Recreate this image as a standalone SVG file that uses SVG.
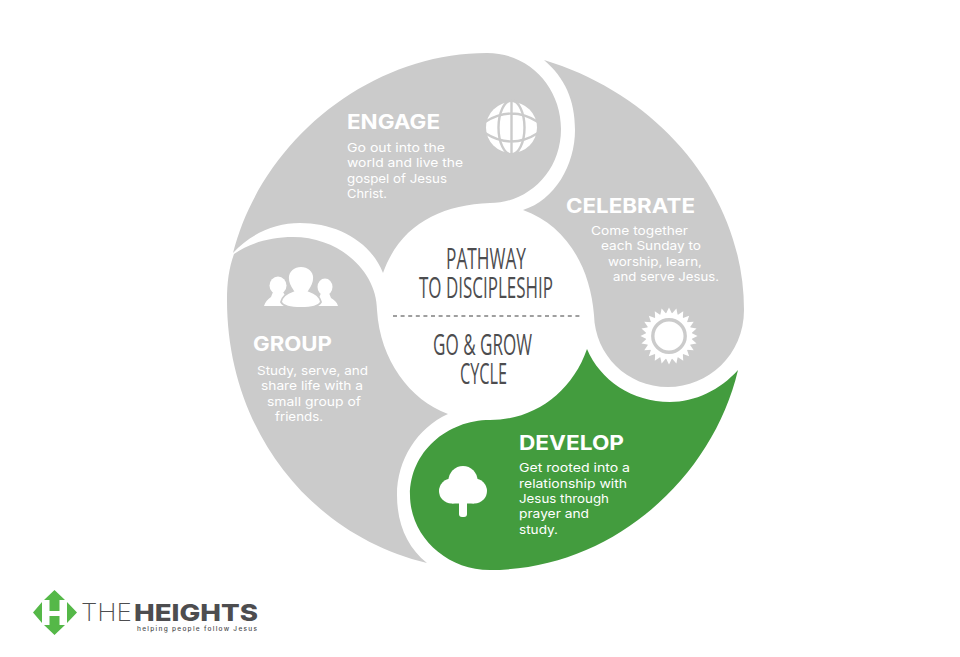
<svg xmlns="http://www.w3.org/2000/svg" xmlns:xlink="http://www.w3.org/1999/xlink" width="960" height="657" viewBox="0 0 960 657">
<style>
.g{fill:#cbcbcb}.w{fill:#fff}
.h{font-family:Inter,"Liberation Sans",sans-serif;font-weight:700;font-size:20px;fill:#fff}
.b{font-family:Inter,"Liberation Sans",sans-serif;font-weight:400;font-size:12px;fill:#fff}
.c{font-family:"Open Sans","Liberation Sans",sans-serif;font-size:30px;fill:#4d4d4f}
</style>
<defs><polygon id="spike" points="-3.2,-22 0,-28.5 3.2,-22"/></defs>
<rect width="960" height="657" fill="#fff"/>
<g id="engage">
<path class="g" d="M233,253C262,140 370,53 487,53C530,53 561,88 561,129C561,172 528,203 490,203C440,205 400,225 383,273C370,240 335,223 300,223C275,223 250,234 233,253Z"/>
<circle class="w" cx="511.500" cy="127.500" r="25.500"/>
<g fill="none" stroke="#cbcbcb" stroke-width="2.400"><path d="M511.500,100V155M485,122Q511.500,105 538,122M485,133Q511.500,150 538,133"/><ellipse cx="511.500" cy="127.500" rx="13" ry="27"/></g>
<text class="h" x="347" y="129" textLength="93" lengthAdjust="spacingAndGlyphs">ENGAGE</text>
<text class="b" x="347" y="152" textLength="98" lengthAdjust="spacingAndGlyphs">Go out into the</text>
<text class="b" x="347" y="167" textLength="116" lengthAdjust="spacingAndGlyphs">world and live the</text>
<text class="b" x="347" y="183" textLength="100" lengthAdjust="spacingAndGlyphs">gospel of Jesus</text>
<text class="b" x="347" y="198" textLength="40" lengthAdjust="spacingAndGlyphs">Christ.</text>
</g>
<g id="celebrate">
<path class="g" d="M544,60C660,95 744,195 744,310C744,355 708,387 668,387C627,387 595,355 594,315C590,265 565,225 523,210C555,200 575,165 575,130C575,100 565,78 544,60Z"/>
<text class="h" x="566" y="213" textLength="129" lengthAdjust="spacingAndGlyphs">CELEBRATE</text>
<text class="b" x="591" y="235" textLength="97" lengthAdjust="spacingAndGlyphs">Come together</text>
<text class="b" x="601" y="250" textLength="100" lengthAdjust="spacingAndGlyphs">each Sunday to</text>
<text class="b" x="608" y="266" textLength="94" lengthAdjust="spacingAndGlyphs">worship, learn,</text>
<text class="b" x="613" y="281" textLength="106" lengthAdjust="spacingAndGlyphs">and serve Jesus.</text>
<g transform="translate(669,336)"><circle class="w" r="23"/><circle r="16.200" fill="none" stroke="#cbcbcb" stroke-width="3.400"/>
<g class="w">
<use xlink:href="#spike"/><use xlink:href="#spike" transform="rotate(15)"/><use xlink:href="#spike" transform="rotate(30)"/><use xlink:href="#spike" transform="rotate(45)"/><use xlink:href="#spike" transform="rotate(60)"/><use xlink:href="#spike" transform="rotate(75)"/><use xlink:href="#spike" transform="rotate(90)"/><use xlink:href="#spike" transform="rotate(105)"/><use xlink:href="#spike" transform="rotate(120)"/><use xlink:href="#spike" transform="rotate(135)"/><use xlink:href="#spike" transform="rotate(150)"/><use xlink:href="#spike" transform="rotate(165)"/><use xlink:href="#spike" transform="rotate(180)"/><use xlink:href="#spike" transform="rotate(195)"/><use xlink:href="#spike" transform="rotate(210)"/><use xlink:href="#spike" transform="rotate(225)"/><use xlink:href="#spike" transform="rotate(240)"/><use xlink:href="#spike" transform="rotate(255)"/><use xlink:href="#spike" transform="rotate(270)"/><use xlink:href="#spike" transform="rotate(285)"/><use xlink:href="#spike" transform="rotate(300)"/><use xlink:href="#spike" transform="rotate(315)"/><use xlink:href="#spike" transform="rotate(330)"/><use xlink:href="#spike" transform="rotate(345)"/>
</g></g>
</g>
<g id="develop">
<path fill="#439c3e" d="M738,370C712,480 610,570 490,570C445,570 410,535 410,495C410,452 447,420 490,420C535,420 572,392 587,349C600,380 632,402 670,402C695,402 720,390 738,370Z"/>
<g class="w"><circle cx="463" cy="480.500" r="14.500"/><circle cx="451.500" cy="491" r="12.500"/><circle cx="474.500" cy="491" r="12.500"/><rect x="452" y="488" width="22" height="15.500"/><rect x="459" y="495" width="8" height="22" rx="3"/></g>
<text class="h" x="519" y="449.500" textLength="105" lengthAdjust="spacingAndGlyphs">DEVELOP</text>
<text class="b" x="519" y="472" textLength="111" lengthAdjust="spacingAndGlyphs">Get rooted into a</text>
<text class="b" x="519" y="488" textLength="108" lengthAdjust="spacingAndGlyphs">relationship with</text>
<text class="b" x="519" y="503" textLength="90" lengthAdjust="spacingAndGlyphs">Jesus through</text>
<text class="b" x="519" y="518" textLength="70" lengthAdjust="spacingAndGlyphs">prayer and</text>
<text class="b" x="519" y="534" textLength="39" lengthAdjust="spacingAndGlyphs">study.</text>
</g>
<g id="group">
<path class="g" d="M234,254C250,243 270,237 293,237C340,237 377,272 377,310C380,360 410,400 448,414C417,428 397,460 397,495C397,525 408,548 427,563C310,535 227,430 227,300C227,282 229,268 234,254Z"/>
<g class="w">
<ellipse cx="278" cy="285.500" rx="8.500" ry="9"/><path d="M273,292H283L286,297C291,299 294,302 295,306H264C265,302 268,299 271,297Z"/>
<ellipse cx="325" cy="287" rx="7.500" ry="8.500"/><path d="M321,293H329L331,298C334,300 337,302 338,306H312C313,302 316,300 319,298Z"/>
<g stroke="#cbcbcb" stroke-width="1.800"><path d="M301,266C308,266 314,271 314,278C314,284 311,288 309,291C315,293 320,297 321,302C319,306 311,308 301,308C291,308 283,306 281,302C282,297 287,293 293,291C291,288 288,284 288,278C288,271 294,266 301,266Z"/></g>
</g>
<text class="h" x="253" y="351" textLength="79" lengthAdjust="spacingAndGlyphs">GROUP</text>
<text class="b" x="257" y="375" textLength="111" lengthAdjust="spacingAndGlyphs">Study, serve, and</text>
<text class="b" x="261" y="390" textLength="102" lengthAdjust="spacingAndGlyphs">share life with a</text>
<text class="b" x="267" y="406" textLength="94" lengthAdjust="spacingAndGlyphs">small group of</text>
<text class="b" x="275" y="421" textLength="48" lengthAdjust="spacingAndGlyphs">friends.</text>
</g>
<g id="center">
<text class="c" x="446" y="269" textLength="80" lengthAdjust="spacingAndGlyphs">PATHWAY</text>
<text class="c" x="419" y="298" textLength="134" lengthAdjust="spacingAndGlyphs">TO DISCIPLESHIP</text>
<path d="M393,316H581" stroke="#808080" stroke-width="1.500" stroke-dasharray="4 3.600" fill="none"/>
<text class="c" x="433" y="355" textLength="99" lengthAdjust="spacingAndGlyphs">GO &amp; GROW</text>
<text class="c" x="460" y="384" textLength="47" lengthAdjust="spacingAndGlyphs">CYCLE</text>
</g>
<g id="logo">
<path fill="#55b848" d="M54.500,590L65,600H59.500V611H49.500V600H44ZM49.500,616H59.500V625H65L54.500,635L44,625H49.500ZM42,602V623L33,612.500ZM67,602L77,612.500L67,623Z"/>
<text x="81" y="621" font-family="Inter,'Liberation Sans',sans-serif" font-weight="200" font-size="23.500" fill="#4d4d4f" textLength="51" lengthAdjust="spacingAndGlyphs">THE</text>
<text x="134" y="621" font-family="Inter,'Liberation Sans',sans-serif" font-weight="800" font-size="23.500" fill="#4d4d4f" textLength="124" lengthAdjust="spacingAndGlyphs">HEIGHTS</text>
<text x="137" y="631" font-family="Inter,'Liberation Sans',sans-serif" font-weight="500" font-size="6.500" fill="#4d4d4f" textLength="120" lengthAdjust="spacing">helping people follow Jesus</text>
</g>
</svg>
